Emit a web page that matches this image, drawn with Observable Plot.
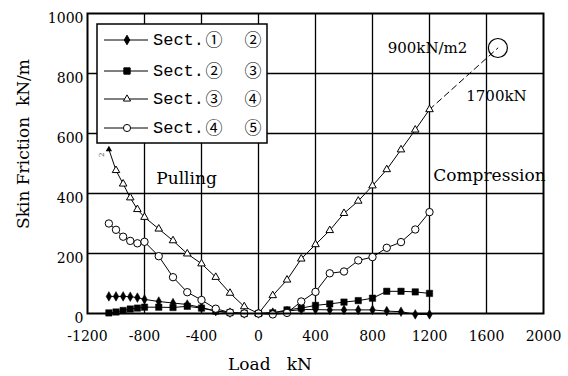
<!DOCTYPE html>
<html><head><meta charset="utf-8">
<script src="https://cdn.jsdelivr.net/npm/d3@7"></script>
<script src="https://cdn.jsdelivr.net/npm/@observablehq/plot@0.6"></script>
<style>
body{margin:0;background:#fff;}
</style>
</head><body><div id="chart"></div>
<script>
// ---- data ----
const loadsPull = [-1050,-1000,-950,-900,-850,-800,-700,-600,-500,-400,-300,-200,-100,0];
const loadsComp = [100,200,300,400,500,600,700,800,900,1000,1100,1200];
const sect12Pull = [57,57,57,56,53,47,40,35,30,20,8,3,0,0];
const sect12Comp = [3,8,13,13,12,12,12,12,8,6,-3,-3];
const sect23Pull = [2,5,10,15,18,21,21,20,24,18,8,3,0,0];
const sect23Comp = [2,12,18,27,32,38,43,51,74,74,72,67];
const sect34Pull = [547,477,432,386,347,321,282,243,199,166,121,68,23,0];
const sect34Comp = [60,112,182,230,277,334,375,426,480,546,612,680];
const sect45Pull = [300,279,256,242,234,239,191,121,71,45,16,3,0,0];
const sect45Comp = [-3,2,40,72,134,140,177,188,219,238,280,338];
const seriesNames = ["Sect.12","Sect.23","Sect.34","Sect.45"];
const legendFrom = ["①","②","③","④"];
const legendTo = ["②","③","④","⑤"];
const extrapLoads = [1200,1680];
const extrapValues = [680,885];
const xTicks = [-1200,-800,-400,0,400,800,1200,1600,2000];
const yTicks = [0,200,400,600,800,1000];
const gridXValues = [-800,-400,0,400,800,1200,1600];
const gridYValues = [200,400,600,800];
const noteTexts = ["Pulling","Compression","900kN/m2","1700kN"];
const noteX = [-505,1621,1186,1670];
const noteY = [450,460,885,723];

// ---- build tables ----
const allLoads = loadsPull.concat(loadsComp);
const pulls = [sect12Pull, sect23Pull, sect34Pull, sect45Pull];
const comps = [sect12Comp, sect23Comp, sect34Comp, sect45Comp];
const rows = seriesNames.flatMap((s,i) => {
  const vals = pulls[i].concat(comps[i]);
  return allLoads.map((l,j) => ({series:s, load:l, value:vals[j], idx:j}));
});
const bySeries = s => rows.filter(d => d.series === s);
const extrap = extrapLoads.map((l,i) => ({load:l, value:extrapValues[i]}));
const notes = noteTexts.map((t,i) => ({text:t, x:noteX[i], y:noteY[i]}));

const W = 568, H = 376;
const chart = Plot.plot({
  width: W, height: H,
  marginLeft: 87, marginRight: 25, marginTop: 13, marginBottom: 63,
  style: {fontFamily: "'DejaVu Serif', serif", fontSize: "14px", color: "black", background: "white"},
  x: {domain: [-1200, 2000]},
  y: {domain: [0, 1000]},
  marks: [
    Plot.gridX(gridXValues, {stroke: "black", strokeOpacity: 1, strokeWidth: 1.3}),
    Plot.gridY(gridYValues, {stroke: "black", strokeOpacity: 1, strokeWidth: 1.3}),
    Plot.axisX({ticks: xTicks, tickSize: 0, tickPadding: 18, fontSize: 14, tickFormat: d => String(d), label: null}),
    Plot.axisY({ticks: yTicks, tickSize: 0, tickPadding: 4, dy: 5, fontSize: 14, tickFormat: d => String(d), label: null}),
    Plot.line(rows, {x: "load", y: "value", z: "series", stroke: "black", strokeWidth: 1}),
    Plot.line(extrap, {x: "load", y: "value", stroke: "black", strokeWidth: 1, strokeDasharray: "6,4"}),
    Plot.dot(extrap.slice(1), {x: "load", y: "value", r: 9.5, stroke: "black", strokeWidth: 1.2, fill: "none"}),
    Plot.dot(bySeries("Sect.12"), {x: "load", y: "value", symbol: "diamond", r: 2.9, fill: "black", stroke: "black", strokeWidth: 0.5}),
    Plot.dot(bySeries("Sect.23"), {x: "load", y: "value", symbol: "square", r: 3.6, fill: "black", stroke: "black", strokeWidth: 0.5}),
    Plot.dot(bySeries("Sect.34").filter(d => d.idx > 0), {x: "load", y: "value", symbol: "triangle", r: 2.8, fill: "white", stroke: "black", strokeWidth: 1}),
    Plot.dot(bySeries("Sect.34").filter(d => d.idx === 0), {x: "load", y: "value", symbol: "triangle", r: 1.4, fill: "black", stroke: "black"}),
    Plot.dot(bySeries("Sect.45"), {x: "load", y: "value", symbol: "circle", r: 3.7, fill: "white", stroke: "black", strokeWidth: 1}),
    Plot.frame({stroke: "black", strokeWidth: 2}),
    Plot.text(notes.slice(0,2), {x: "x", y: "y", text: "text", fontSize: 17}),
    Plot.text(notes.slice(2), {x: "x", y: "y", text: "text", fontSize: 15})
  ]
});
document.getElementById("chart").appendChild(chart);

// ---- axis titles and legend ----
const svg = d3.select(chart);
svg.append("text").attr("x", 270).attr("y", 370).attr("text-anchor", "middle")
  .style("white-space", "pre").attr("font-size", 17).attr("fill", "black").text("Load   kN");
svg.append("text").attr("transform", "translate(29,144) rotate(-90)").attr("text-anchor", "middle")
  .style("white-space", "pre").attr("font-size", 17).attr("fill", "black").text("Skin Friction  kN/m");
// tiny "2" mark near the top of the pulling triangle curve
svg.append("text").attr("transform", "translate(104,157) rotate(-90)").attr("font-size", 7)
  .attr("text-anchor", "start").attr("fill", "#555").text("2");

const lg = svg.append("g").attr("text-anchor", "start");
lg.append("rect").attr("x", 97).attr("y", 24).attr("width", 170).attr("height", 119)
  .attr("fill", "white").attr("stroke", "black").attr("stroke-width", 1.5);
const rowY = [40, 71, 99, 128];
const syms = [
  {type: d3.symbolDiamond, size: 26, fill: "black"},
  {type: d3.symbolSquare, size: 40, fill: "black"},
  {type: d3.symbolTriangle, size: 22, fill: "white"},
  {type: d3.symbolCircle, size: 40, fill: "white"}
];
seriesNames.forEach((s, i) => {
  const y = rowY[i];
  lg.append("line").attr("x1", 104).attr("x2", 148).attr("y1", y).attr("y2", y)
    .attr("stroke", "black").attr("stroke-width", 1);
  lg.append("path").attr("d", d3.symbol(syms[i].type, syms[i].size)())
    .attr("transform", `translate(127,${y})`).attr("fill", syms[i].fill)
    .attr("stroke", "black").attr("stroke-width", 1);
  lg.append("text").attr("x", 153).attr("y", y + 5).attr("text-anchor", "start")
    .style("font-family", "'Liberation Mono', monospace")
    .attr("font-size", 17).attr("fill", "black").text("Sect.");
  lg.append("text").attr("x", 214).attr("y", y + 6).attr("text-anchor", "middle")
    .style("font-family", "'Noto Sans CJK JP', 'DejaVu Sans', sans-serif")
    .attr("font-size", 17).attr("fill", "black").text(legendFrom[i]);
  lg.append("text").attr("x", 253).attr("y", y + 6).attr("text-anchor", "middle")
    .style("font-family", "'Noto Sans CJK JP', 'DejaVu Sans', sans-serif")
    .attr("font-size", 17).attr("fill", "black").text(legendTo[i]);
});
</script>
</body></html>
